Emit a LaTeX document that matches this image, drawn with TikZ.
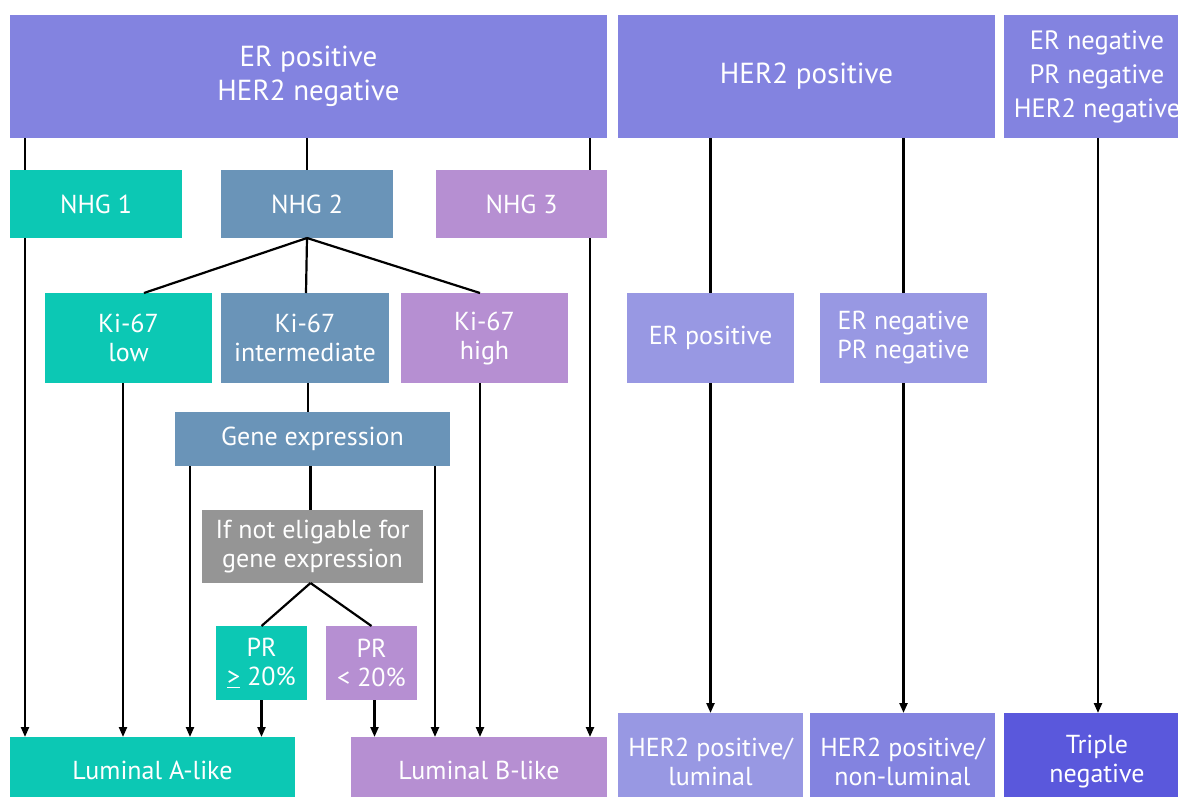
\documentclass[tikz,border=0pt]{standalone}
\usepackage{fontspec}
\setmainfont{PT Sans}
\usetikzlibrary{arrows.meta}
\definecolor{topc}{RGB}{131,131,224}
\definecolor{lightc}{RGB}{152,152,227}
\definecolor{tealc}{RGB}{12,200,180}
\definecolor{bluec}{RGB}{106,148,184}
\definecolor{lilac}{RGB}{182,143,210}
\definecolor{grayc}{RGB}{149,149,149}
\definecolor{darkc}{RGB}{90,88,220}
\tikzset{
  box/.style={inner sep=0pt, outer sep=0pt, text=white, align=center,
    font=\fontsize{26}{29}\selectfont},
  bigbox/.style={box, font=\fontsize{29}{34}\selectfont},
  link/.style={line width=2.2pt, draw=black},
  arr/.style={link, -{Triangle[length=10pt,width=8pt]}},
}
\begin{document}
\begin{tikzpicture}[x=1pt,y=-1pt]
\useasboundingbox (0,0) rectangle (1178,796);
% top row
\node[bigbox, fill=topc, minimum width=597, minimum height=123] (top1) at (308.5,76.5) {ER positive\\HER2 negative};
\node[bigbox, fill=topc, minimum width=377, minimum height=123] (top2) at (806.5,76.5) {HER2 positive};
\node[bigbox, fill=topc, minimum width=186, minimum height=123, font=\fontsize{26.5}{34}\selectfont] (top3) at (1097,76.5) {ER negative\\PR negative\\HER2 negative};
% NHG row
\node[box, fill=tealc, minimum width=172, minimum height=68] (nhg1) at (96,204) {NHG 1};
\node[box, fill=bluec, minimum width=172, minimum height=68] (nhg2) at (307,204) {NHG 2};
\node[box, fill=lilac, minimum width=171, minimum height=68] (nhg3) at (521.5,204) {NHG 3};
% Ki-67 row
\node[box, fill=tealc, minimum width=167, minimum height=90] (kilow) at (128.5,338) {Ki-67\\low};
\node[box, fill=bluec, minimum width=168, minimum height=90] (kiint) at (305,338) {Ki-67\\intermediate};
\node[box, fill=lilac, minimum width=167, minimum height=90] (kihigh) at (484.5,338) {Ki-67\\high};
\node[box, fill=lightc, minimum width=167, minimum height=90] (erpos) at (710.5,338) {ER positive};
\node[box, fill=lightc, minimum width=167, minimum height=90] (erneg) at (903.5,338) {ER negative\\PR negative};
% gene expression
\node[box, fill=bluec, minimum width=275, minimum height=54] (gene) at (312.5,439) {Gene expression};
\node[box, fill=grayc, minimum width=221, minimum height=73] (inel) at (312.5,546.5) {If not eligable for\\gene expression};
\node[box, fill=tealc, minimum width=91, minimum height=74] (prge) at (261.5,663) {PR\\\underline{>} 20\%};
\node[box, fill=lilac, minimum width=91, minimum height=74] (prlt) at (371.5,663) {PR\\< 20\%};
% bottom row
\node[box, fill=tealc, minimum width=285, minimum height=66] (lumA) at (152.5,770) {Luminal A-like};
\node[box, fill=lilac, minimum width=256, minimum height=66] (lumB) at (479,770) {Luminal B-like};
\node[box, fill=lightc, minimum width=185, minimum height=98] (h2lum) at (710.5,762) {HER2 positive/\\luminal};
\node[box, fill=topc, minimum width=185, minimum height=98] (h2non) at (902.5,762) {HER2 positive/\\non-luminal};
\node[box, fill=darkc, minimum width=186, minimum height=98] (trip) at (1097,762) {Triple\\negative};
% connectors: left column
\draw[link] ([xshift=15pt]top1.south west) -- ([xshift=15pt]nhg1.north west);
\draw[arr] ([xshift=15pt]nhg1.south west) -- ([xshift=15pt]lumA.north west);
\draw[link] (top1.south -| nhg2.north) -- (nhg2.north);
\draw[link] ([xshift=-17pt]top1.south east) -- ([xshift=-17pt]nhg3.north east);
\draw[arr] ([xshift=-17pt]nhg3.south east) -- ([xshift=-17pt]lumB.north east);
% NHG2 branches
\draw[link] (nhg2.south) -- ([xshift=15.5pt]kilow.north);
\draw[link] (nhg2.south) -- ([xshift=1pt]kiint.north);
\draw[link] (nhg2.south) -- ([xshift=-4.5pt]kihigh.north);
\draw[arr] ([xshift=-5.5pt]kilow.south) -- ([xshift=-5.5pt]kilow.south |- lumA.north);
\draw[arr] ([xshift=-4.5pt]kihigh.south) -- ([xshift=-4.5pt]kihigh.south |- lumB.north);
\draw[link] ([xshift=3pt]kiint.south) -- ([xshift=3pt]kiint.south |- gene.north);
% gene expression
\draw[arr] ([xshift=15pt]gene.south west) -- ([xshift=15pt]gene.south west |- lumA.north);
\draw[arr] ([xshift=-15pt]gene.south east) -- ([xshift=-15pt]gene.south east |- lumB.north);
\draw[link] ([xshift=-2pt]gene.south) -- ([xshift=-2pt]inel.north);
\draw[link] ([xshift=-2pt]inel.south) -- (prge.north);
\draw[link] ([xshift=-2pt]inel.south) -- (prlt.north);
\draw[arr] (prge.south) -- (prge.south |- lumA.north);
\draw[arr] ([xshift=3pt]prlt.south) -- ([xshift=3pt]prlt.south |- lumB.north);
% HER2 side
\draw[link] (top2.south -| erpos.north) -- (erpos.north);
\draw[arr] (erpos.south) -- (h2lum.north);
\draw[link] (top2.south -| erneg.north) -- (erneg.north);
\draw[arr] (erneg.south) -- (erneg.south |- h2non.north);
\draw[arr] ([xshift=1pt]top3.south) -- ([xshift=1pt]trip.north);
\end{tikzpicture}
\end{document}
